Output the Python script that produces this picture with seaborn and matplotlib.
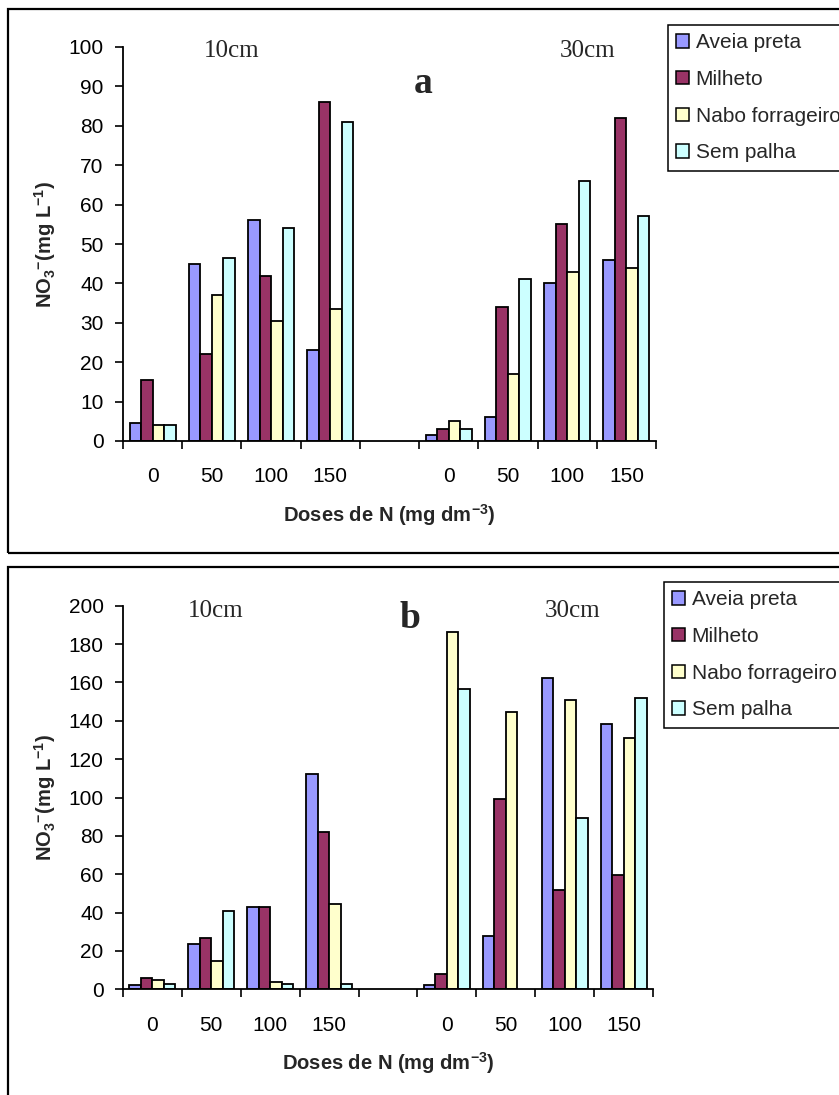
import matplotlib
matplotlib.use("Agg")
import matplotlib.pyplot as plt
from matplotlib.patches import Patch, Rectangle
from matplotlib.ticker import FixedLocator, NullFormatter
import numpy as np
import pandas as pd
import seaborn as sns

# ---- data -------------------------------------------------------------
DOSES = ["0", "50", "100", "150"]
DEPTHS = ["10cm", "30cm"]
SERIES = ["Aveia preta", "Milheto", "Nabo forrageiro", "Sem palha"]
COLORS = ["#9999FF", "#993366", "#FFFFCC", "#CCFFFF"]

# panel a: values for 10cm doses 0..150 followed by 30cm doses 0..150
A_AVEIA = [4.5, 45, 56, 23, 1.5, 6, 40, 46]
A_MILHETO = [15.5, 22, 42, 86, 3, 34, 55, 82]
A_NABO = [4, 37, 30.5, 33.5, 5, 17, 43, 44]
A_SEM = [4, 46.5, 54, 81, 3, 41, 66, 57]

# panel b (None = no bar)
B_AVEIA = [2, 23.5, 43, 112, 2, 28, 162.5, 138.5]
B_MILHETO = [6, 26.5, 43, 82, 8, 99, 52, 59.5]
B_NABO = [5, 15, 4, 44.5, 186.5, 144.5, 151, 131]
B_SEM = [3, 41, 3, 3, 156.5, None, 89.5, 152]

A_YTICKS = list(range(0, 101, 10))
B_YTICKS = list(range(0, 201, 20))

# ---- styling ----------------------------------------------------------
sns.set_style("ticks")
plt.rcParams["font.family"] = ["Liberation Sans", "DejaVu Sans"]
plt.rcParams["mathtext.default"] = "regular"

W, H = 839, 1095
fig = plt.figure(figsize=(W / 100, H / 100), dpi=100)

# category slots: four doses per depth with an empty slot in between
ORDER = [f"{DEPTHS[0]} {d}" for d in DOSES] + ["gap"] + [f"{DEPTHS[1]} {d}" for d in DOSES]
SLOT_LABELS = DOSES + [""] + DOSES

TICK_FS = 15
LEG_FS = 15
LABEL_FS = 14.5


def long_frame(values):
    rows = []
    keys = [k for k in ORDER if k != "gap"]
    for name, vals in zip(SERIES, values):
        for key, v in zip(keys, vals):
            if v is not None:
                rows.append({"slot": key, "valor": v, "serie": name})
    return pd.DataFrame(rows)


def fx(px):
    return px / W


def fy(px):
    return 1 - px / H


def draw_panel(rect, values, yticks, letter, txt_pos, legend_xy):
    ax = fig.add_axes(rect)
    df = long_frame(values)
    sns.barplot(data=df, x="slot", y="valor", hue="serie", order=ORDER,
                hue_order=SERIES, palette=COLORS, saturation=1, width=0.78,
                edgecolor="black", linewidth=1.3, errorbar=None, ax=ax)
    if ax.get_legend() is not None:
        ax.get_legend().remove()

    ax.set_xlim(-0.5, len(ORDER) - 0.5)
    ax.set_ylim(yticks[0], yticks[-1])
    ax.set_yticks(yticks)
    ax.set_yticklabels([str(t) for t in yticks], fontsize=TICK_FS)
    ax.xaxis.set_major_locator(FixedLocator(np.arange(len(ORDER))))
    ax.set_xticklabels(SLOT_LABELS, fontsize=TICK_FS)
    ax.xaxis.set_minor_locator(FixedLocator(np.arange(len(ORDER) + 1) - 0.5))
    ax.xaxis.set_minor_formatter(NullFormatter())
    ax.tick_params(axis="x", which="major", length=0, pad=19, colors="black")
    ax.tick_params(axis="x", which="minor", length=6, width=1.2, direction="out", color="black")
    ax.tick_params(axis="y", length=6, width=1.2, direction="out", pad=8, colors="black")
    for s in ("top", "right"):
        ax.spines[s].set_visible(False)
    for s in ("left", "bottom"):
        ax.spines[s].set_linewidth(1.3)
        ax.spines[s].set_color("black")
    ax.set_xlabel("")
    ax.set_ylabel("")

    # axis titles
    ax.text(0.5, -81 / (rect[3] * H), r"Doses de N (mg dm$^{-3}$)", transform=ax.transAxes,
            ha="center", va="baseline", fontsize=LABEL_FS, fontweight="bold")
    ax.text(-78 / (rect[2] * W), 0.5, r"NO$_3$$^{-}$(mg L$^{-1}$)", transform=ax.transAxes,
            ha="center", va="center", rotation=90, fontsize=LABEL_FS, fontweight="bold")

    # depth headings and panel letter
    (x10, y10), (x30, y30), (xl, yl) = txt_pos
    ax.text(x10, y10, DEPTHS[0], transform=ax.transAxes, ha="center", va="baseline",
            fontsize=18, family="Liberation Serif")
    ax.text(x30, y30, DEPTHS[1], transform=ax.transAxes, ha="center", va="baseline",
            fontsize=18, family="Liberation Serif")
    ax.text(xl, yl, letter, transform=ax.transAxes, ha="center", va="baseline",
            fontsize=27, fontweight="bold", family="Liberation Serif")

    handles = [Patch(facecolor=c, edgecolor="black", linewidth=1.1) for c in COLORS]
    leg = ax.legend(handles, SERIES, loc="upper left",
                    bbox_to_anchor=(fx(legend_xy[0]), fy(legend_xy[1])),
                    bbox_transform=fig.transFigure, borderaxespad=0, fontsize=LEG_FS,
                    frameon=True, fancybox=False, shadow=False, framealpha=1,
                    edgecolor="black", handlelength=0.62, handleheight=0.62,
                    handletextpad=0.3, labelspacing=0.85, borderpad=0.4)
    leg.get_frame().set_linewidth(1.1)
    return ax


# panel a
draw_panel([fx(123), fy(441), (656 - 123) / W, (441 - 47) / H],
           [A_AVEIA, A_MILHETO, A_NABO, A_SEM], A_YTICKS, "a",
           [(0.203, 0.975), (0.872, 0.974), (0.563, 0.883)], (668, 25))

# panel b
draw_panel([fx(123), fy(989.3), (653 - 123) / W, (989.3 - 605.7) / H],
           [B_AVEIA, B_MILHETO, B_NABO, B_SEM], B_YTICKS, "b",
           [(0.175, 0.971), (0.849, 0.971), (0.542, 0.942)], (664, 582))

# outer frames around each chart
for top, bottom in ((9, 553), (567, 1200)):
    fig.patches.append(Rectangle((fx(8), fy(bottom)), fx(1000), (bottom - top) / H,
                                 transform=fig.transFigure, fill=False,
                                 edgecolor="black", linewidth=1.6))

fig.savefig("out.png", dpi=100)
